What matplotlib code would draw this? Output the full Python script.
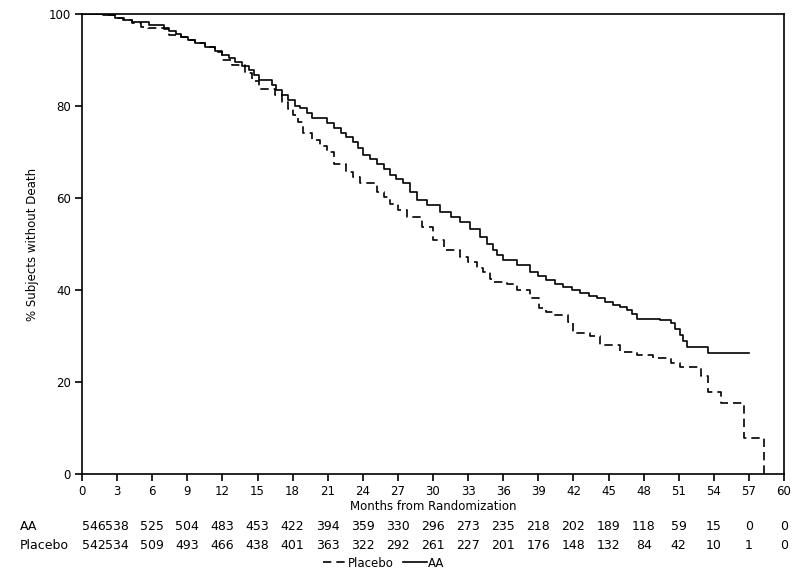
import matplotlib
matplotlib.use("Agg")
import matplotlib.pyplot as plt
import matplotlib.transforms as mtransforms
from matplotlib.lines import Line2D

plt.rcParams['font.family'] = ['DejaVu Sans']

# Kaplan-Meier step points (months, % without death)
aa_months = [0, 1.8, 2.8, 3.6, 4.3, 5.7, 7.0, 7.4, 8.0, 8.5, 9.1, 9.7, 10.5, 11.4, 12.0,
             12.6, 13.1, 13.7, 14.3, 14.7, 15.1, 16.2, 16.6, 17.1, 17.6, 18.2, 18.6, 19.2,
             19.7, 20.9, 21.5, 22.1, 22.6, 23.2, 23.6, 24.0, 24.6, 25.2, 25.8, 26.3, 26.8,
             27.4, 28.0, 28.6, 29.5, 30.6, 31.5, 32.3, 33.2, 34.0, 34.6, 35.1, 35.5, 36.0,
             37.2, 38.3, 39.0, 39.7, 40.4, 41.1, 41.9, 42.6, 43.3, 44.0, 44.7, 45.4, 46.0,
             46.6, 47.0, 47.4, 49.4, 50.3, 50.7, 51.1, 51.4, 51.7, 53.5, 57.0]
aa_surv = [100, 99.8, 99.1, 98.7, 98.3, 97.6, 96.8, 96.2, 95.6, 95.1, 94.4, 93.6, 92.9,
           92.0, 91.1, 90.4, 89.6, 88.7, 87.8, 86.8, 85.7, 84.6, 83.5, 82.4, 81.2, 79.9,
           79.5, 78.4, 77.3, 76.2, 75.2, 74.1, 73.2, 72.2, 70.8, 69.3, 68.4, 67.5, 66.2,
           65.0, 64.1, 63.2, 61.4, 59.6, 58.5, 57.0, 55.9, 54.8, 53.2, 51.6, 50.0, 48.7,
           47.6, 46.5, 45.4, 44.0, 43.1, 42.2, 41.4, 40.7, 40.0, 39.3, 38.7, 38.2, 37.4,
           36.7, 36.2, 35.7, 34.7, 33.8, 33.5, 32.8, 31.5, 30.2, 29.0, 27.6, 26.3, 26.3]

pbo_months = [0, 1.8, 2.8, 3.5, 4.3, 5.0, 5.6, 7.4, 8.5, 9.1, 9.7, 10.5, 11.4, 12.0, 12.8,
              13.9, 14.5, 15.1, 16.5, 17.1, 17.6, 18.0, 18.5, 18.9, 19.7, 20.3, 20.9, 21.5,
              22.6, 23.2, 23.8, 25.2, 25.8, 26.3, 27.0, 27.8, 29.1, 30.0, 30.9, 32.3, 33.0,
              33.8, 34.3, 34.9, 35.1, 36.3, 37.2, 38.3, 39.1, 39.7, 40.3, 41.5, 42.0, 43.4,
              44.3, 46.0, 47.4, 48.8, 50.3, 51.1, 52.9, 53.5, 54.6, 56.6, 58.3]
pbo_surv = [100, 99.8, 99.1, 98.7, 98.0, 97.2, 96.9, 95.4, 95.0, 94.4, 93.6, 92.8, 91.8,
            90.0, 88.9, 87.1, 85.5, 83.8, 82.4, 80.9, 79.4, 78.0, 76.6, 74.1, 72.6, 71.3,
            70.1, 67.5, 65.7, 64.5, 63.2, 61.4, 60.2, 58.8, 57.4, 55.9, 53.8, 50.9, 48.7,
            47.2, 46.0, 44.7, 44.0, 42.5, 41.8, 41.4, 40.0, 38.2, 36.0, 35.3, 34.6, 33.1,
            30.6, 29.9, 28.0, 26.6, 25.9, 25.2, 24.1, 23.3, 21.2, 17.8, 15.4, 7.8, 0]

# number at risk table
risk_months = list(range(0, 61, 3))
aa_risk = [546, 538, 525, 504, 483, 453, 422, 394, 359, 330, 296, 273, 235, 218, 202,
           189, 118, 59, 15, 0, 0]
pbo_risk = [542, 534, 509, 493, 466, 438, 401, 363, 322, 292, 261, 227, 201, 176, 148,
            132, 84, 42, 10, 1, 0]

fig = plt.figure(figsize=(8, 5.74), dpi=100)
ax = fig.add_axes([0.1025, 0.1742, 0.8775, 0.8014])

ax.step(aa_months, aa_surv, where='post', color='black', lw=1.2)
ax.step(pbo_months, pbo_surv, where='post', color='black', lw=1.2,
        linestyle=(0, (5, 3)))

ax.set_xlim(0, 60)
ax.set_ylim(0, 100)
ax.set_xticks(risk_months)
ax.set_yticks([0, 20, 40, 60, 80, 100])
ax.tick_params(direction='out', length=5, width=1.2, labelsize=8.5, pad=3)
for sp in ax.spines.values():
    sp.set_linewidth(1.2)

ax.set_ylabel('% Subjects without Death', fontsize=8.5, labelpad=7)
ax.set_xlabel('Months from Randomization', fontsize=8.5, labelpad=1)

# risk table below the axis
trans = mtransforms.blended_transform_factory(ax.transData, fig.transFigure)
fig.text(0.025, 0.082, 'AA', fontsize=9, va='center', ha='left')
fig.text(0.025, 0.050, 'Placebo', fontsize=9, va='center', ha='left')
for i, m in enumerate(risk_months):
    ha = 'left' if i == 0 else 'center'
    ax.text(m, 0.082, str(aa_risk[i]), transform=trans, fontsize=9, va='center', ha=ha)
    ax.text(m, 0.050, str(pbo_risk[i]), transform=trans, fontsize=9, va='center', ha=ha)

handles = [Line2D([], [], color='black', lw=1.2, linestyle=(0, (5, 3))),
           Line2D([], [], color='black', lw=1.2)]
fig.legend(handles, ['Placebo', 'AA'], loc='center', bbox_to_anchor=(0.48, 0.019),
           ncol=2, frameon=False, fontsize=8.5, handlelength=2.0, handletextpad=0.1,
           columnspacing=0.8)

fig.savefig('out.png', dpi=100)
